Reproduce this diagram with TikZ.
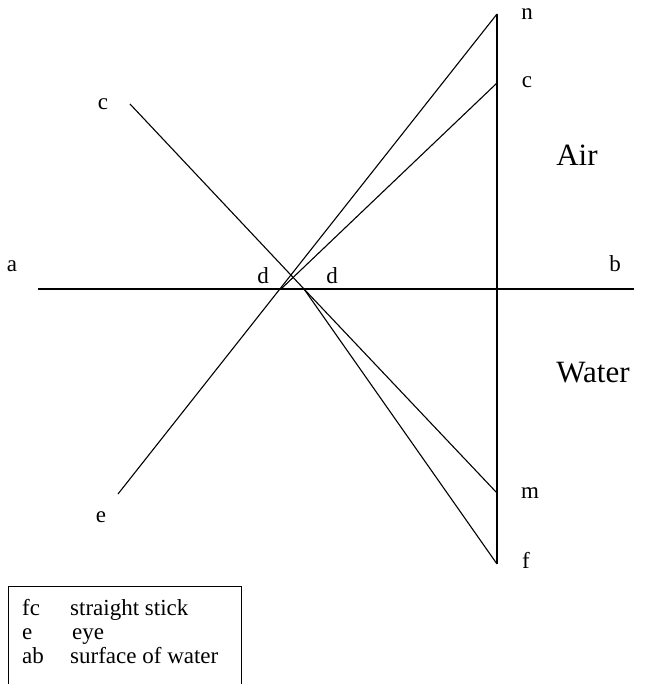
\documentclass[tikz,border=0pt]{standalone}
\usepackage{fontspec}
\setmainfont{Liberation Serif}
\begin{document}
\begin{tikzpicture}[x=1pt,y=-1pt,
  ray/.style={line width=1.1pt,black},
  lbl/.style={inner sep=0pt,font=\fontsize{23}{26}\selectfont},
  big/.style={inner sep=0pt,font=\fontsize{31}{35}\selectfont},
  leg/.style={inner sep=0pt,anchor=base west,font=\fontsize{23}{26}\selectfont}]
\useasboundingbox (0,0) rectangle (647,684);
% points
\coordinate (A) at (38,289);
\coordinate (B) at (634,289);
\coordinate (N) at (497,14);
\coordinate (F) at (497,564);
\coordinate (M) at (497,493);
\coordinate (C2) at (497,83);
\coordinate (C1) at (130,104);
\coordinate (E) at (118,494);
\coordinate (D1) at (281,289);
\coordinate (D2) at (304,289);
% lines
\draw[ray] (A) -- (B);
\draw[ray] (N) -- (F);
\draw[ray] (E) -- (N);
\draw[ray] (D1) -- (C2);
\draw[ray] (C1) -- (D2) -- (M);
\draw[ray] (D2) -- (F);
% labels
\node[lbl] (ln) at (527,14) {n};
\node[lbl] (lc2) at (527,82) {c};
\node[lbl] (lm) at (530,493) {m};
\node[lbl] (lf) at (526,560) {f};
\node[lbl] (lc1) at (103,104) {c};
\node[lbl] (le) at (101,517) {e};
\node[lbl] (la) at (12,266) {a};
\node[lbl] (lb) at (615,264) {b};
\node[lbl] (ld1) at (263,276) {d};
\node[lbl] (ld2) at (332,276) {d};
\node[big] (air) at (577,155) {Air};
\node[big] (water) at (593,373) {Water};
% legend
\draw[line width=1pt] (8,683.5) -- (8,586) -- (241,586) -- (241,683.5);
\node[leg] (k1) at (22,615) {fc};
\node[leg] (v1) at (70,615) {straight stick};
\node[leg] (k2) at (22,639) {e};
\node[leg] (v2) at (72,639) {eye};
\node[leg] (k3) at (22,663) {ab};
\node[leg] (v3) at (70,663) {surface of water};
\end{tikzpicture}
\end{document}
